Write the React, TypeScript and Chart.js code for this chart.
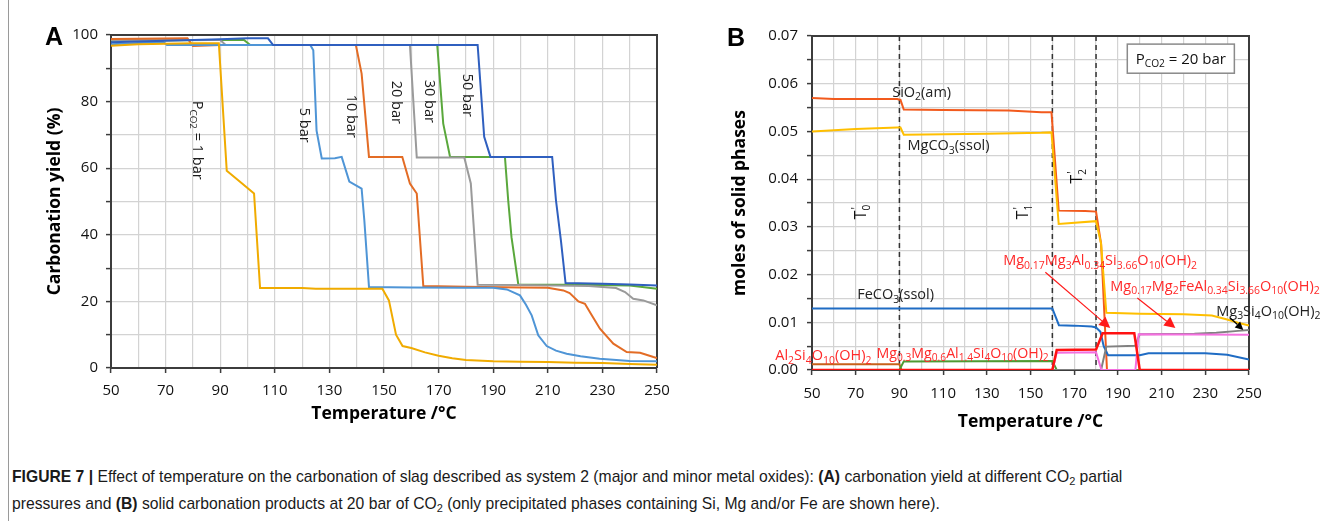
import React, { useEffect, useRef } from "react";
import { Chart, registerables } from "chart.js";

Chart.register(...registerables);

// ---------------- Panel A: carbonation yield (%) vs temperature (°C) ----------------
const tempP1 = [50, 60, 70, 80, 89.5, 92.4, 96.6, 102.4, 104.6, 120, 125, 149.4, 151.8, 154.4, 156.8, 160, 165, 170, 175, 180, 190, 200, 210, 220, 230, 240, 250];
const yieldP1 = [96.8, 97.2, 97.4, 97.5, 97.5, 59.2, 56.4, 52.4, 24.0, 24.0, 23.8, 23.8, 20.3, 10.0, 6.6, 6.0, 4.7, 3.7, 2.9, 2.4, 2.0, 1.9, 1.8, 1.6, 1.5, 1.2, 1.0];

const tempP5 = [50, 60, 69, 70.5, 123, 124.1, 125.3, 127.2, 132, 134.5, 137.3, 141.8, 142.8, 144.5, 160, 180, 190, 195, 199.8, 202, 204.1, 206.5, 209.6, 213, 216.9, 222, 229, 240, 250];
const yieldP5 = [97.2, 97.6, 98.0, 97.0, 97.0, 95.4, 71.3, 62.9, 63.0, 63.4, 56.0, 53.9, 44.3, 24.3, 24.2, 24.1, 24.1, 23.6, 21.8, 19.0, 15.8, 9.8, 6.6, 5.2, 4.3, 3.5, 2.8, 2.1, 2.0];

const tempP10 = [50, 78, 80, 90, 139.7, 141.8, 144.5, 156.7, 159.5, 162, 164.4, 180, 200, 210, 215.7, 218, 221.2, 223.6, 226, 229.1, 234, 238.9, 243.8, 248.7, 250];
const yieldP10 = [98.8, 99.0, 96.7, 97.0, 97.0, 88.4, 63.4, 63.4, 55.4, 52.4, 24.6, 24.4, 24.2, 24.1, 23.3, 22.5, 20.0, 19.3, 16.0, 11.8, 7.3, 4.8, 4.6, 3.3, 3.0];

const tempP20 = [50, 90, 92, 159.5, 162, 179.4, 181.8, 184.3, 200, 225, 235, 238.3, 241.3, 245, 250];
const yieldP20 = [98.5, 98.5, 97.0, 97.0, 63.2, 63.2, 55.4, 25.0, 24.9, 24.6, 24.0, 22.8, 20.8, 20.3, 18.8];

const tempP30 = [50, 98.6, 101, 169.5, 171.7, 174.2, 194.3, 195.5, 196.7, 199.2, 220, 240, 250];
const yieldP30 = [98.3, 98.6, 97.0, 97.0, 73.4, 63.4, 63.4, 50.3, 39.3, 25.1, 25.0, 24.8, 23.8];

const tempP50 = [50, 70, 90, 100, 107.5, 109.4, 184.3, 186.7, 189, 211.6, 213, 214.8, 216.5, 230, 240, 250];
const yieldP50 = [97.8, 98.3, 98.7, 99.0, 99.0, 97.0, 97.0, 69.4, 63.4, 63.4, 50.3, 38.3, 25.5, 25.3, 25.1, 24.8];

const labelsA = ["P_{CO2} = 1 bar", "5 bar", "10 bar", "20 bar", "30 bar", "50 bar"];
const labelSpotA: [number, number][] = [[81.9, 68.4], [121.1, 72.9], [138.3, 75.6], [154.8, 79.8], [166.8, 80.1], [180.8, 81.9]];

// ---------------- Panel B: moles of solid phases vs temperature (°C), PCO2 = 20 bar ----------------
const tempSiO2 = [50, 60, 89, 90.5, 92, 110, 140, 155, 159.6, 162.9, 175, 180, 182.3, 185, 250];
const molSiO2 = [0.057, 0.0568, 0.0568, 0.0566, 0.0546, 0.0545, 0.0544, 0.054, 0.054, 0.0334, 0.0333, 0.0332, 0.0265, 0, 0];

const tempMgCO3 = [50, 70, 89, 90.5, 92, 130, 155, 159.6, 162.9, 180, 182.3, 184.7, 200, 220, 233, 240, 245, 250];
const molMgCO3 = [0.05, 0.0505, 0.0508, 0.0508, 0.0493, 0.0495, 0.0497, 0.0498, 0.0306, 0.0312, 0.0265, 0.012, 0.0118, 0.0117, 0.0114, 0.0106, 0.0099, 0.0093];

const tempFeCO3 = [50, 160, 163, 170, 178, 180, 182, 183.5, 185.5, 200, 204, 230, 240, 250];
const molFeCO3 = [0.0129, 0.0129, 0.0094, 0.0093, 0.0091, 0.0089, 0.008, 0.005, 0.0031, 0.0031, 0.0035, 0.0035, 0.0032, 0.0022];

const tempAlSi = [50, 90, 91, 250];
const molAlSi = [0.0012, 0.0012, 0, 0];

const tempMgAl14 = [50, 90, 92, 160, 162, 250];
const molMgAl14 = [0, 0, 0.0018, 0.0019, 0, 0];

const tempMgAl034 = [50, 160, 162, 180, 183, 197.5, 200, 250];
const molMgAl034 = [0, 0, 0.0042, 0.0043, 0.0077, 0.0077, 0, 0];

const tempMgFe = [50, 160, 162, 180, 182.5, 198, 199.5, 250];
const molMgFe = [0, 0, 0.0036, 0.0037, 0, 0, 0.0075, 0.0074];

const tempTalc = [50, 182.3, 184.7, 198, 200, 225, 235, 245, 250];
const molTalc = [0, 0, 0.0049, 0.0051, 0.0075, 0.0076, 0.0078, 0.0082, 0.0084];

const boundaryTemps = [90, 160, 180];

const FONT = '"Open Sans", "Noto Sans", sans-serif';
const ARIAL = '"Liberation Sans", Arial, sans-serif';
const GRID = "#d3d3d3";
const AXIS = "#3c3c3c";

Chart.defaults.font.family = FONT;

function pts(t: number[], v: number[]) {
  return t.map((x, i) => ({ x, y: v[i] }));
}

function parseRich(s: string) {
  const out: { t: string; sub: boolean }[] = [];
  let i = 0;
  while (i < s.length) {
    const j = s.indexOf("_{", i);
    if (j < 0) {
      out.push({ t: s.slice(i), sub: false });
      break;
    }
    if (j > i) out.push({ t: s.slice(i, j), sub: false });
    const k = s.indexOf("}", j);
    out.push({ t: s.slice(j + 2, k), sub: true });
    i = k + 1;
  }
  return out;
}

type RichOpt = { size: number; color: string; align?: "left" | "center" | "right"; rot?: number; weight?: string; family?: string; subRatio?: number };

function drawRich(ctx: CanvasRenderingContext2D, text: string, x: number, y: number, o: RichOpt) {
  const segs = parseRich(text);
  const fam = o.family || FONT;
  const wt = o.weight || "normal";
  const sub = o.size * (o.subRatio || 0.68);
  const widths: number[] = [];
  let w = 0;
  for (const s of segs) {
    ctx.font = `${wt} ${s.sub ? sub : o.size}px ${fam}`;
    const m = ctx.measureText(s.t).width;
    widths.push(m);
    w += m;
  }
  ctx.save();
  ctx.translate(x, y);
  if (o.rot) ctx.rotate(o.rot);
  ctx.fillStyle = o.color;
  ctx.textAlign = "left";
  ctx.textBaseline = "alphabetic";
  let cx = o.align === "center" ? -w / 2 : o.align === "right" ? -w : 0;
  const base = o.size * 0.36;
  segs.forEach((s, i) => {
    ctx.font = `${wt} ${s.sub ? sub : o.size}px ${fam}`;
    ctx.fillText(s.t, cx, s.sub ? base + o.size * 0.22 : base);
    cx += widths[i];
  });
  ctx.restore();
}

function drawPrimeT(ctx: CanvasRenderingContext2D, x: number, y: number, idx: string) {
  ctx.save();
  ctx.translate(x, y);
  ctx.rotate(-Math.PI / 2);
  ctx.fillStyle = "#111";
  ctx.textBaseline = "alphabetic";
  ctx.font = `16px ${FONT}`;
  const tw = ctx.measureText("T").width;
  ctx.fillText("T", -tw / 2 - 2, 6);
  ctx.font = `12px ${FONT}`;
  ctx.fillText("'", tw / 2 - 1, 0);
  ctx.font = `10px ${FONT}`;
  ctx.fillText(idx, tw / 2 - 2, 10);
  ctx.restore();
}

function arrow(ctx: CanvasRenderingContext2D, x1: number, y1: number, x2: number, y2: number, color: string, head: number) {
  const a = Math.atan2(y2 - y1, x2 - x1);
  const bx = x2 - head * Math.cos(a);
  const by = y2 - head * Math.sin(a);
  const hw = head * 0.5;
  ctx.save();
  ctx.strokeStyle = color;
  ctx.fillStyle = color;
  ctx.lineWidth = 1.2;
  ctx.beginPath();
  ctx.moveTo(x1, y1);
  ctx.lineTo(bx, by);
  ctx.stroke();
  ctx.beginPath();
  ctx.moveTo(x2, y2);
  ctx.lineTo(bx + hw * Math.sin(a), by - hw * Math.cos(a));
  ctx.lineTo(bx - hw * Math.sin(a), by + hw * Math.cos(a));
  ctx.closePath();
  ctx.fill();
  ctx.restore();
}

function frame(chart: any) {
  const { ctx, chartArea: ca } = chart;
  ctx.save();
  ctx.strokeStyle = AXIS;
  ctx.lineWidth = 2;
  ctx.beginPath();
  ctx.moveTo(ca.left, ca.top);
  ctx.lineTo(ca.right, ca.top);
  ctx.lineTo(ca.right, ca.bottom);
  ctx.stroke();
  ctx.restore();
}

const tickFont = { family: FONT, size: 15 };

function xScale(padding: number) {
  return {
    type: "linear" as const,
    min: 50,
    max: 250,
    ticks: {
      stepSize: 10,
      autoSkip: false,
      maxRotation: 0,
      padding,
      color: "#111",
      font: tickFont,
      callback: (v: any) => ((Number(v) - 50) % 20 === 0 ? String(v) : ""),
    },
    grid: {
      color: GRID,
      lineWidth: 1.2,
      tickLength: 5,
      tickWidth: 1.5,
      tickColor: (c: any) => (c.tick && (c.tick.value - 50) % 20 === 0 ? AXIS : "rgba(0,0,0,0)"),
    },
    border: { color: AXIS, width: 2 },
    afterFit: (s: any) => {
      s.height = 30;
    },
  };
}

const plugA = {
  id: "annotA",
  beforeDatasetsDraw(chart: any) {
    frame(chart);
  },
  afterDraw(chart: any) {
    const { ctx, chartArea: ca, scales } = chart;
    const x = scales.x;
    const y = scales.y;
    ctx.save();
    ctx.fillStyle = "#000";
    ctx.font = `bold 25px ${ARIAL}`;
    ctx.textAlign = "center";
    ctx.textBaseline = "middle";
    ctx.fillText("A", 54, 38);
    ctx.restore();
    drawRich(ctx, "Carbonation yield (%)", 54, (ca.top + ca.bottom) / 2, { size: 17.5, color: "#000", weight: "bold", align: "center", rot: -Math.PI / 2 });
    drawRich(ctx, "Temperature /°C", (ca.left + ca.right) / 2, 413, { size: 17.5, color: "#000", weight: "bold", align: "center" });
    labelsA.forEach((lab, i) => {
      const [tx, ty] = labelSpotA[i];
      drawRich(ctx, lab, x.getPixelForValue(tx), y.getPixelForValue(ty), { size: 14.5, color: "#1a1a1a", align: "center", rot: Math.PI / 2 });
    });
  },
};

function configA(): any {
  const ds = (label: string, t: number[], v: number[], color: string) => ({
    label,
    data: pts(t, v),
    borderColor: color,
    backgroundColor: color,
    borderWidth: 2,
    pointRadius: 0,
    tension: 0,
    fill: false,
  });
  return {
    type: "line",
    data: {
      datasets: [
        ds("50 bar", tempP50, yieldP50, "#2f5fbf"),
        ds("1 bar", tempP1, yieldP1, "#f0ab00"),
        ds("5 bar", tempP5, yieldP5, "#4f95d6"),
        ds("10 bar", tempP10, yieldP10, "#e36c25"),
        ds("20 bar", tempP20, yieldP20, "#9a9a9a"),
        ds("30 bar", tempP30, yieldP30, "#5aa83c"),
      ],
    },
    options: {
      responsive: false,
      animation: false,
      devicePixelRatio: 1,
      layout: { padding: { left: 0, top: 35, right: 43, bottom: 42 } },
      plugins: { legend: { display: false }, tooltip: { enabled: false } },
      scales: {
        x: xScale(9),
        y: {
          min: 0,
          max: 100,
          ticks: {
            stepSize: 5,
            padding: 8,
            color: "#111",
            font: tickFont,
            callback: (v: any) => (Number(v) % 20 === 0 ? String(v) : ""),
          },
          grid: { color: GRID, lineWidth: 1.2, tickLength: 5, tickWidth: 1.5, tickColor: AXIS },
          border: { color: AXIS, width: 2 },
          afterFit: (s: any) => {
            s.width = 111;
          },
        },
      },
    },
    plugins: [plugA],
  };
}

const plugB = {
  id: "annotB",
  beforeDatasetsDraw(chart: any) {
    frame(chart);
    const { ctx, chartArea: ca, scales } = chart;
    ctx.save();
    ctx.strokeStyle = "#333";
    ctx.lineWidth = 1.5;
    ctx.setLineDash([5, 4]);
    boundaryTemps.forEach((t) => {
      const px = scales.x.getPixelForValue(t);
      ctx.beginPath();
      ctx.moveTo(px, ca.top);
      ctx.lineTo(px, ca.bottom);
      ctx.stroke();
    });
    ctx.restore();
  },
  afterDraw(chart: any) {
    const { ctx, chartArea: ca, scales } = chart;
    const X = (v: number) => scales.x.getPixelForValue(v);
    const Y = (v: number) => scales.y.getPixelForValue(v);
    ctx.save();
    ctx.fillStyle = "#000";
    ctx.font = `bold 25px ${ARIAL}`;
    ctx.textAlign = "center";
    ctx.textBaseline = "middle";
    ctx.fillText("B", 36, 39);
    ctx.restore();
    drawRich(ctx, "moles of solid phases", 39, (ca.top + ca.bottom) / 2, { size: 17.5, color: "#000", weight: "bold", align: "center", rot: -Math.PI / 2 });
    drawRich(ctx, "Temperature /°C", (ca.left + ca.right) / 2, 421, { size: 17.5, color: "#000", weight: "bold", align: "center" });

    // legend box
    const bx1 = X(194.3), bx2 = X(243.3), by1 = Y(0.0683), by2 = Y(0.0622);
    ctx.save();
    ctx.fillStyle = "#fff";
    ctx.fillRect(bx1, by1, bx2 - bx1, by2 - by1);
    ctx.strokeStyle = "#8a8a8a";
    ctx.lineWidth = 1.5;
    ctx.strokeRect(bx1, by1, bx2 - bx1, by2 - by1);
    ctx.restore();
    drawRich(ctx, "P_{CO2} = 20 bar", (bx1 + bx2) / 2, (by1 + by2) / 2, { size: 15, color: "#111", align: "center" });

    const dark = "#222";
    const red = "#ff2a2a";
    const so = { size: 14.5, subRatio: 0.72 };
    drawRich(ctx, "SiO_{2}(am)", X(86.7), Y(0.0584), { ...so, color: dark });
    drawRich(ctx, "MgCO_{3}(ssol)", X(93.7), Y(0.0471), { ...so, color: dark });
    drawRich(ctx, "FeCO_{3}(ssol)", X(70.7), Y(0.0159), { ...so, color: dark });
    drawRich(ctx, "Al_{2}Si_{4}O_{10}(OH)_{2}", X(33.2), Y(0.0031), { ...so, color: red });
    drawRich(ctx, "Mg_{0.3}Mg_{0.6}Al_{1.4}Si_{4}O_{10}(OH)_{2}", X(79.5), Y(0.0036), { size: 14.2, subRatio: 0.72, color: red });
    drawRich(ctx, "Mg_{0.17}Mg_{3}Al_{0.34}Si_{3.66}O_{10}(OH)_{2}", X(137.5), Y(0.023), { ...so, color: red });
    drawRich(ctx, "Mg_{0.17}Mg_{2}FeAl_{0.34}Si_{3.66}O_{10}(OH)_{2}", X(186.5), Y(0.0176), { ...so, color: red });
    drawRich(ctx, "Mg_{3}Si_{4}O_{10}(OH)_{2}", X(235), Y(0.01235), { ...so, color: dark });

    drawPrimeT(ctx, X(72), Y(0.0329), "0");
    drawPrimeT(ctx, X(146.2), Y(0.0329), "1");
    drawPrimeT(ctx, X(171), Y(0.0404), "2");

    arrow(ctx, X(156.8), Y(0.0205), X(186.5), Y(0.0088), "#ff1a1a", 11);
    arrow(ctx, X(198.9), Y(0.0151), X(216.3), Y(0.0088), "#ff1a1a", 11);
    arrow(ctx, X(241.4), Y(0.0109), X(247.4), Y(0.0084), "#000", 8);
  },
};

function configB(): any {
  const ds = (label: string, t: number[], v: number[], color: string, w = 2) => ({
    label,
    data: pts(t, v),
    borderColor: color,
    backgroundColor: color,
    borderWidth: w,
    pointRadius: 0,
    tension: 0,
    fill: false,
  });
  return {
    type: "line",
    data: {
      datasets: [
        ds("Mg0.17Mg3Al0.34Si3.66O10(OH)2", tempMgAl034, molMgAl034, "#ff1111", 2.5),
        ds("Mg0.17Mg2FeAl0.34Si3.66O10(OH)2", tempMgFe, molMgFe, "#f56fe0"),
        ds("Mg3Si4O10(OH)2", tempTalc, molTalc, "#808080"),
        ds("Mg0.3Mg0.6Al1.4Si4O10(OH)2", tempMgAl14, molMgAl14, "#4f9a32"),
        ds("Al2Si4O10(OH)2", tempAlSi, molAlSi, "#c8601a"),
        ds("FeCO3(ssol)", tempFeCO3, molFeCO3, "#1f6cc4"),
        ds("MgCO3(ssol)", tempMgCO3, molMgCO3, "#ffbf00"),
        ds("SiO2(am)", tempSiO2, molSiO2, "#f25a1d"),
      ],
    },
    options: {
      responsive: false,
      animation: false,
      devicePixelRatio: 1,
      layout: { padding: { left: 0, top: 36, right: 92, bottom: 40 } },
      plugins: { legend: { display: false }, tooltip: { enabled: false } },
      scales: {
        x: xScale(10),
        y: {
          min: 0,
          max: 0.07,
          ticks: {
            stepSize: 0.005,
            padding: 9,
            color: "#111",
            font: tickFont,
            callback: (v: any) => {
              const k = Math.round(Number(v) * 1000);
              return k % 10 === 0 ? (k / 1000).toFixed(2) : "";
            },
          },
          grid: { color: GRID, lineWidth: 1.2, tickLength: 5, tickWidth: 1.5, tickColor: AXIS },
          border: { color: AXIS, width: 2 },
          afterFit: (s: any) => {
            s.width = 112;
          },
        },
      },
    },
    plugins: [plugB],
  };
}

const bold: React.CSSProperties = { fontWeight: 700 };
const subStyle: React.CSSProperties = { fontSize: "0.7em", verticalAlign: "-0.25em", lineHeight: 0 };

export default function App() {
  const refA = useRef<HTMLCanvasElement>(null);
  const refB = useRef<HTMLCanvasElement>(null);
  useEffect(() => {
    const a = new Chart(refA.current as HTMLCanvasElement, configA());
    const b = new Chart(refB.current as HTMLCanvasElement, configB());
    return () => {
      a.destroy();
      b.destroy();
    };
  }, []);
  return (
    <div style={{ position: "absolute", left: 0, top: 0, width: 1341, height: 521, background: "#fff", overflow: "hidden" }}>
      <canvas ref={refA} width={700} height={440} style={{ position: "absolute", left: 0, top: 0, width: 700, height: 440 }} />
      <canvas ref={refB} width={641} height={440} style={{ position: "absolute", left: 700, top: 0, width: 641, height: 440 }} />
      <div style={{ position: "absolute", left: 8, top: 0, width: 1, height: 521, background: "#9a9a9a" }} />
      <div
        style={{
          position: "absolute",
          left: 12,
          top: 463,
          fontFamily: ARIAL,
          fontSize: 15.7,
          lineHeight: "27px",
          color: "#1a1a1a",
          whiteSpace: "nowrap",
        }}
      >
        <div>
          <span style={bold}>FIGURE 7 |</span> Effect of temperature on the carbonation of slag described as system 2 (major and minor metal oxides):{" "}
          <span style={bold}>(A)</span> carbonation yield at different CO<sub style={subStyle}>2</sub> partial
        </div>
        <div>
          pressures and <span style={bold}>(B)</span> solid carbonation products at 20 bar of CO<sub style={subStyle}>2</sub> (only precipitated phases
          containing Si, Mg and/or Fe are shown here).
        </div>
      </div>
    </div>
  );
}
